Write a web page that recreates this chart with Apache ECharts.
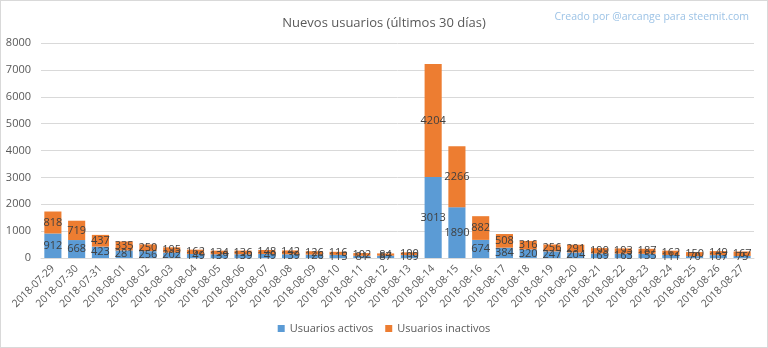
<!DOCTYPE html>
<html>
<head>
<meta charset="utf-8">
<script src="https://cdn.jsdelivr.net/npm/echarts@6/dist/echarts.min.js"></script>
<style>
  html, body { margin: 0; padding: 0; background: #fff; }
  #chart { width: 766px; height: 346px; border: 1px solid #d9d9d9; }
</style>
</head>
<body>
<div id="chart"></div>
<script>
// Daily new accounts, split into active and inactive users
const dates = [
  '2018-07-29','2018-07-30','2018-07-31','2018-08-01','2018-08-02','2018-08-03',
  '2018-08-04','2018-08-05','2018-08-06','2018-08-07','2018-08-08','2018-08-09',
  '2018-08-10','2018-08-11','2018-08-12','2018-08-13','2018-08-14','2018-08-15',
  '2018-08-16','2018-08-17','2018-08-18','2018-08-19','2018-08-20','2018-08-21',
  '2018-08-22','2018-08-23','2018-08-24','2018-08-25','2018-08-26','2018-08-27'
];
const activos = [912, 668, 423, 281, 256, 202, 149, 139, 139, 149, 139, 126, 115, 81, 87, 109,
  3013, 1890, 674, 384, 320, 247, 204, 169, 163, 155, 111, 70, 107, 75];
const inactivos = [818, 719, 437, 335, 250, 195, 162, 134, 136, 148, 142, 126, 116, 102, 84, 100,
  4204, 2266, 882, 508, 316, 256, 291, 199, 193, 187, 162, 150, 149, 167];
const yTicks = { min: 0, max: 8000, step: 1000 };

const FONT = '"Open Sans", "Noto Sans", sans-serif';
const TXT = '#595959';

const chart = echarts.init(document.getElementById('chart'), null, { renderer: 'canvas' });

const label = {
  show: true,
  position: 'inside',
  color: '#404040',
  fontFamily: FONT,
  fontSize: 11
};

chart.setOption({
  animation: false,
  textStyle: { fontFamily: FONT },
  title: [
    {
      text: 'Nuevos usuarios (últimos 30 días)',
      left: 'center',
      top: 11,
      textStyle: { color: TXT, fontSize: 13, fontWeight: 'normal', fontFamily: FONT }
    },
    {
      text: 'Creado por @arcange para steemit.com',
      right: 13,
      top: 6,
      textStyle: { color: '#9dc3e6', fontSize: 10.5, fontWeight: 'normal', fontFamily: FONT }
    }
  ],
  legend: {
    bottom: 8,
    left: 'center',
    itemWidth: 7,
    itemHeight: 7,
    itemGap: 12,
    icon: 'rect',
    textStyle: { color: TXT, fontSize: 11, fontFamily: FONT },
    data: ['Usuarios activos', 'Usuarios inactivos']
  },
  grid: { left: 40, right: 13, top: 42, bottom: 89, containLabel: false },
  xAxis: {
    type: 'category',
    data: dates,
    axisLine: { lineStyle: { color: '#d9d9d9' } },
    axisTick: { show: false },
    axisLabel: {
      rotate: 45,
      interval: 0,
      color: TXT,
      fontSize: 10.5,
      fontFamily: FONT,
      margin: 9
    }
  },
  yAxis: {
    type: 'value',
    min: yTicks.min,
    max: yTicks.max,
    interval: yTicks.step,
    axisLine: { show: false },
    axisTick: { show: false },
    axisLabel: {
      color: TXT, fontSize: 11, fontFamily: FONT, margin: 10,
      formatter: v => String(v)
    },
    splitLine: { lineStyle: { color: '#d9d9d9' } }
  },
  series: [
    {
      name: 'Usuarios activos',
      type: 'bar',
      stack: 'total',
      barWidth: '72%',
      itemStyle: { color: '#5b9bd5' },
      label: label,
      data: activos
    },
    {
      name: 'Usuarios inactivos',
      type: 'bar',
      stack: 'total',
      barWidth: '72%',
      itemStyle: { color: '#ed7d31' },
      label: label,
      data: inactivos
    }
  ]
});
</script>
</body>
</html>
